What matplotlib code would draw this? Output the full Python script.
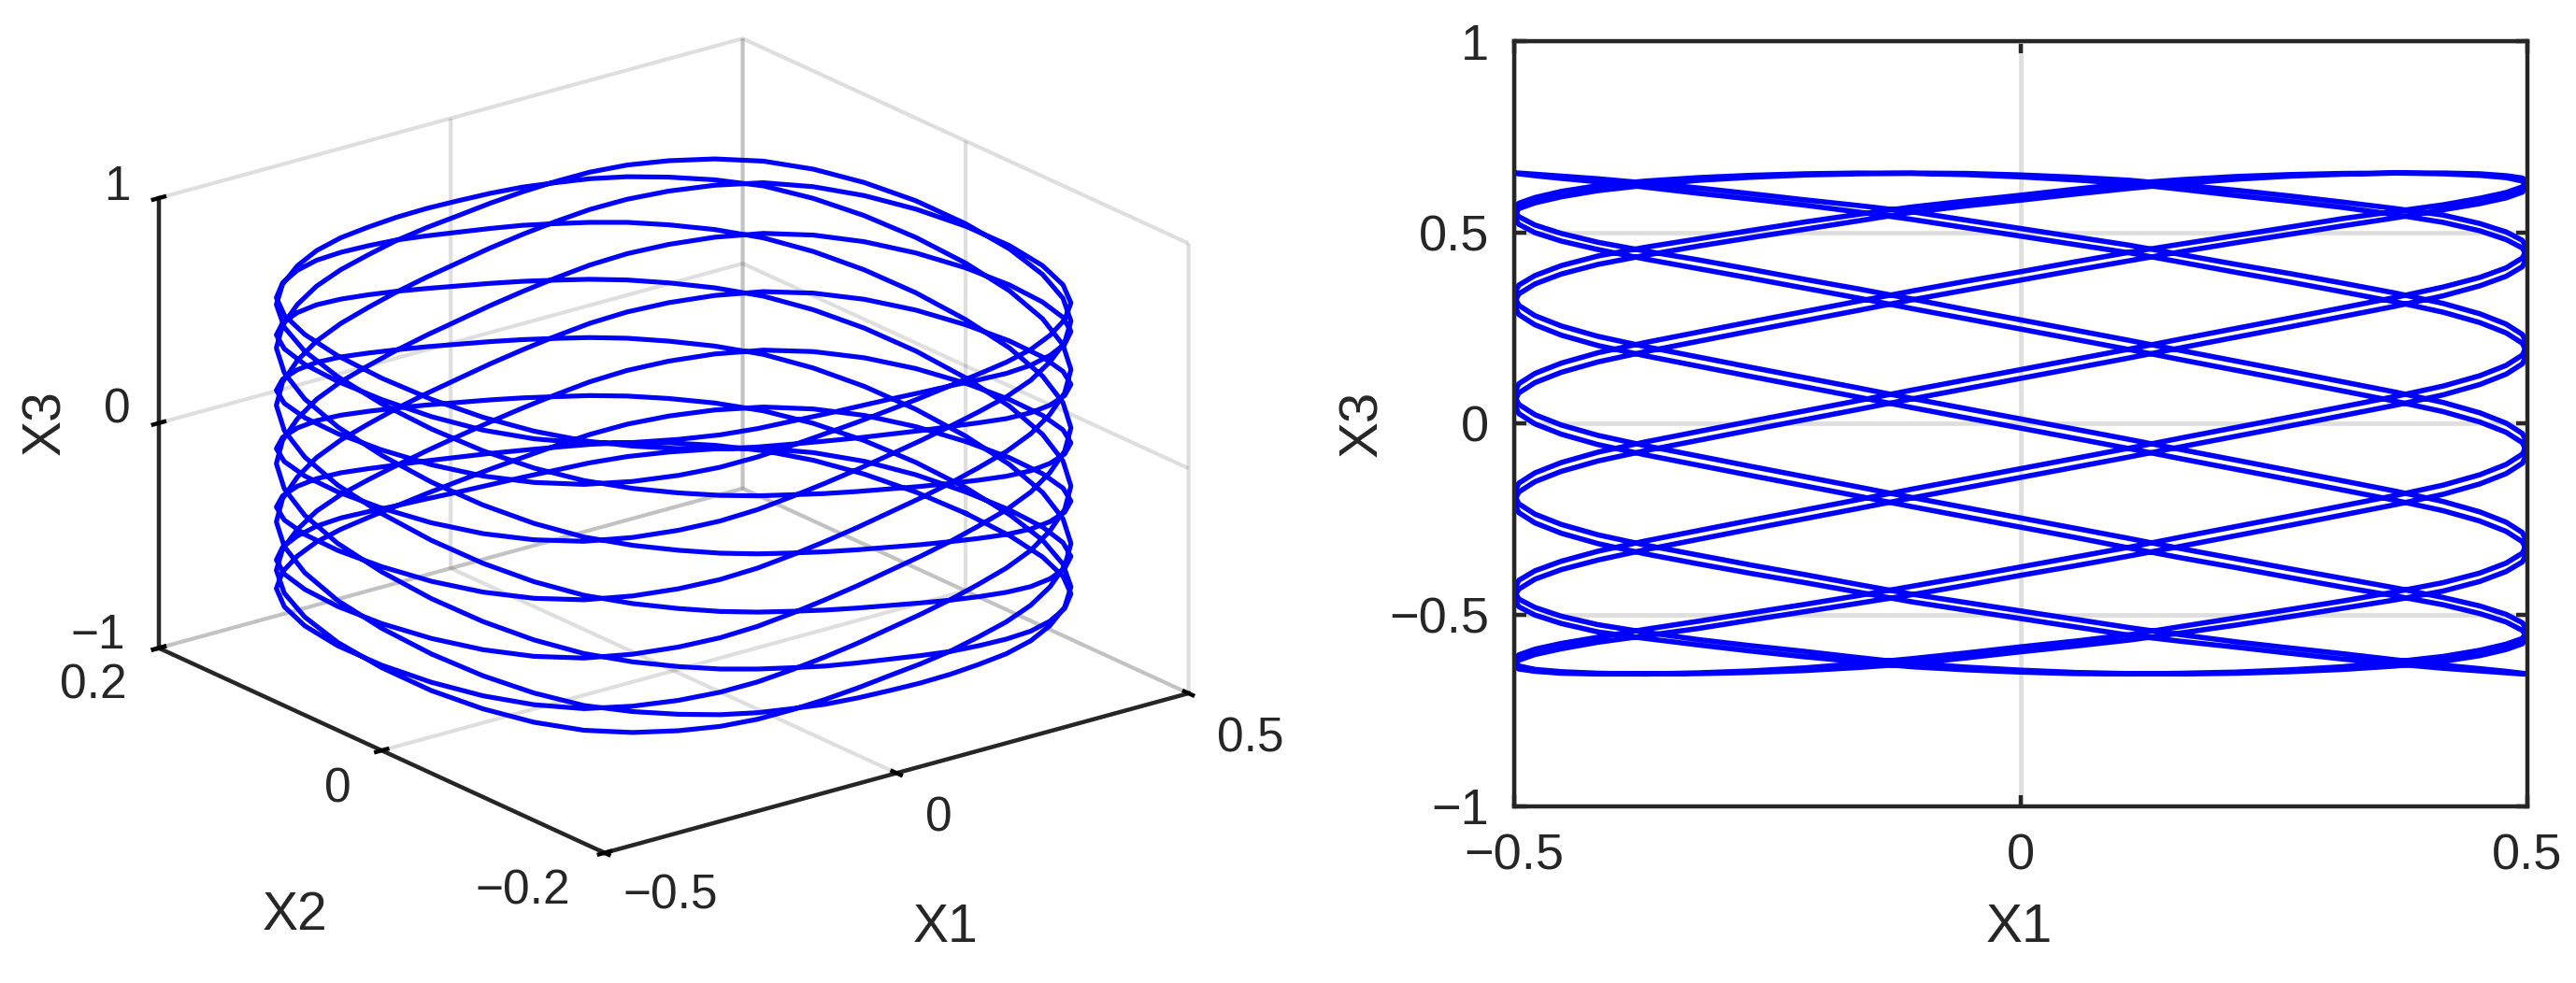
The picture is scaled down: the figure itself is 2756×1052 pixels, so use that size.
import matplotlib
matplotlib.use("Agg")
import matplotlib.pyplot as plt

plt.rcParams['font.family'] = ['Liberation Sans', 'DejaVu Sans']

# trajectory, one row per sweep across X1
# turning points and crossing levels, points between them estimated by hand
x1 = [
    0.5, 0.495, 0.479, 0.453, 0.417, 0.37, 0.318, 0.266, 0.213, 0.16, 0.108, 0.054, 0, -0.054, -0.108, -0.16, -0.213, -0.266, -0.318, -0.37, -0.417, -0.453, -0.479, -0.495,
    -0.5, -0.495, -0.479, -0.453, -0.417, -0.37, -0.318, -0.266, -0.213, -0.16, -0.108, -0.054, 0, 0.054, 0.108, 0.16, 0.213, 0.266, 0.318, 0.37, 0.417, 0.453, 0.479, 0.495,
    0.5, 0.495, 0.479, 0.453, 0.417, 0.37, 0.318, 0.266, 0.213, 0.16, 0.108, 0.054, 0, -0.054, -0.108, -0.16, -0.213, -0.266, -0.318, -0.37, -0.417, -0.453, -0.479, -0.495,
    -0.5, -0.495, -0.479, -0.453, -0.417, -0.37, -0.318, -0.266, -0.213, -0.16, -0.108, -0.054, 0, 0.054, 0.108, 0.16, 0.213, 0.266, 0.318, 0.37, 0.417, 0.453, 0.479, 0.495,
    0.5, 0.495, 0.479, 0.453, 0.417, 0.37, 0.318, 0.266, 0.213, 0.16, 0.108, 0.054, 0, -0.054, -0.108, -0.16, -0.213, -0.266, -0.318, -0.37, -0.417, -0.453, -0.479, -0.495,
    -0.5, -0.495, -0.479, -0.453, -0.417, -0.37, -0.318, -0.266, -0.213, -0.16, -0.108, -0.054, 0, 0.054, 0.108, 0.16, 0.213, 0.266, 0.318, 0.37, 0.417, 0.453, 0.479, 0.495,
    0.5, 0.495, 0.479, 0.453, 0.417, 0.37, 0.318, 0.266, 0.213, 0.16, 0.108, 0.054, 0, -0.054, -0.108, -0.16, -0.213, -0.266, -0.318, -0.37, -0.417, -0.453, -0.479, -0.495,
    -0.5, -0.495, -0.479, -0.453, -0.417, -0.37, -0.318, -0.266, -0.213, -0.16, -0.108, -0.054, 0, 0.054, 0.108, 0.16, 0.213, 0.266, 0.318, 0.37, 0.417, 0.453, 0.479, 0.495,
    0.5, 0.495, 0.479, 0.453, 0.417, 0.37, 0.318, 0.266, 0.213, 0.16, 0.108, 0.054, 0, -0.054, -0.108, -0.16, -0.213, -0.266, -0.318, -0.37, -0.417, -0.453, -0.479, -0.495,
    -0.5, -0.495, -0.479, -0.453, -0.417, -0.37, -0.318, -0.266, -0.213, -0.16, -0.108, -0.054, 0, 0.054, 0.108, 0.16, 0.213, 0.266, 0.318, 0.37, 0.417, 0.453, 0.479, 0.495,
    0.5, 0.495, 0.479, 0.453, 0.417, 0.37, 0.318, 0.266, 0.213, 0.16, 0.108, 0.054, 0, -0.054, -0.108, -0.16, -0.213, -0.266, -0.318, -0.37, -0.417, -0.453, -0.479, -0.495,
    -0.5, -0.495, -0.479, -0.453, -0.417, -0.37, -0.318, -0.266, -0.213, -0.16, -0.108, -0.054, 0, 0.054, 0.108, 0.16, 0.213, 0.266, 0.318, 0.37, 0.417, 0.453, 0.479, 0.495,
    0.5, 0.495, 0.479, 0.453, 0.417, 0.37, 0.318, 0.266, 0.213, 0.16, 0.108, 0.054, 0, -0.054, -0.108, -0.16, -0.213, -0.266, -0.318, -0.37, -0.417, -0.453, -0.479, -0.495,
    -0.5, -0.495, -0.479, -0.453, -0.417, -0.37, -0.318, -0.266, -0.213, -0.16, -0.108, -0.054, 0, 0.054, 0.108, 0.16, 0.213, 0.266, 0.318, 0.37, 0.417, 0.453, 0.479, 0.495,
    0.5, 0.495, 0.479, 0.453, 0.417, 0.37, 0.318, 0.266, 0.213, 0.16, 0.108, 0.054, 0, -0.054, -0.108, -0.16, -0.213, -0.266, -0.318, -0.37, -0.417, -0.453, -0.479, -0.495,
    -0.5, -0.495, -0.479, -0.453, -0.417, -0.37, -0.318, -0.266, -0.213, -0.16, -0.108, -0.054, 0, 0.054, 0.108, 0.16, 0.213, 0.266, 0.318, 0.37, 0.417, 0.453, 0.479, 0.495,
    0.5, 0.495, 0.479, 0.453, 0.417, 0.37, 0.318, 0.266, 0.213, 0.16, 0.108, 0.054, 0, -0.054, -0.108, -0.16, -0.213, -0.266, -0.318, -0.37, -0.417, -0.453, -0.479, -0.495,
    -0.5, -0.495, -0.479, -0.453, -0.417, -0.37, -0.318, -0.266, -0.213, -0.16, -0.108, -0.054, 0, 0.054, 0.108, 0.16, 0.213, 0.266, 0.318, 0.37, 0.417, 0.453, 0.479, 0.495,
    0.5, 0.495, 0.479, 0.453, 0.417, 0.37, 0.318, 0.266, 0.213, 0.16, 0.108, 0.054, 0, -0.054, -0.108, -0.16, -0.213, -0.266, -0.318, -0.37, -0.417, -0.453, -0.479, -0.495,
    -0.5, -0.495, -0.479, -0.453, -0.417, -0.37, -0.318, -0.266, -0.213, -0.16, -0.108, -0.054, 0, 0.054, 0.108, 0.16, 0.213, 0.266, 0.318, 0.37, 0.417, 0.453, 0.479, 0.495,
    0.5, 0.495, 0.479, 0.453, 0.417, 0.37, 0.318, 0.266, 0.213, 0.16, 0.108, 0.054, 0, -0.054, -0.108, -0.16, -0.213, -0.266, -0.318, -0.37, -0.417, -0.453, -0.479, -0.495,
    -0.5, -0.495, -0.479, -0.453, -0.417, -0.37, -0.318, -0.266, -0.213, -0.16, -0.108, -0.054, 0, 0.054, 0.108, 0.16, 0.213, 0.266, 0.318, 0.37, 0.417, 0.453, 0.479, 0.495,
    0.5, 0.495, 0.479, 0.453, 0.417, 0.37, 0.318, 0.266, 0.213, 0.16, 0.108, 0.054, 0, -0.054, -0.108, -0.16, -0.213, -0.266, -0.318, -0.37, -0.417, -0.453, -0.479, -0.495,
    -0.5, -0.495, -0.479, -0.453, -0.417, -0.37, -0.318, -0.266, -0.213, -0.16, -0.108, -0.054, 0, 0.054, 0.108, 0.16, 0.213, 0.266, 0.318, 0.37, 0.417, 0.453, 0.479, 0.495,
    0.5, 0.495, 0.479, 0.453, 0.417, 0.37, 0.318, 0.266, 0.213, 0.16, 0.108, 0.054, 0, -0.054, -0.108, -0.16, -0.213, -0.266, -0.318, -0.37, -0.417, -0.453, -0.479, -0.495,
    -0.5, -0.495, -0.479, -0.453, -0.417, -0.37, -0.318, -0.266, -0.213, -0.16, -0.108, -0.054, 0, 0.054, 0.108, 0.16, 0.213, 0.266, 0.318, 0.37, 0.417, 0.453, 0.479, 0.495,
    0.5,
]

x2 = [
    0, 0.042, 0.08, 0.112, 0.138, 0.157, 0.171, 0.181, 0.187, 0.19, 0.192, 0.193, 0.193, 0.193, 0.192, 0.19, 0.187, 0.181, 0.171, 0.157, 0.138, 0.112, 0.08, 0.042,
    0, -0.042, -0.08, -0.112, -0.138, -0.157, -0.171, -0.181, -0.187, -0.19, -0.192, -0.193, -0.193, -0.193, -0.192, -0.19, -0.187, -0.181, -0.171, -0.157, -0.138, -0.112, -0.08, -0.042,
    0, 0.042, 0.08, 0.112, 0.138, 0.157, 0.171, 0.181, 0.187, 0.19, 0.192, 0.193, 0.193, 0.193, 0.192, 0.19, 0.187, 0.181, 0.171, 0.157, 0.138, 0.112, 0.08, 0.042,
    0, -0.042, -0.08, -0.112, -0.138, -0.157, -0.171, -0.181, -0.187, -0.19, -0.192, -0.193, -0.193, -0.193, -0.192, -0.19, -0.187, -0.181, -0.171, -0.157, -0.138, -0.112, -0.08, -0.042,
    0, 0.042, 0.08, 0.112, 0.138, 0.157, 0.171, 0.181, 0.187, 0.19, 0.192, 0.193, 0.193, 0.193, 0.192, 0.19, 0.187, 0.181, 0.171, 0.157, 0.138, 0.112, 0.08, 0.042,
    0, -0.042, -0.08, -0.112, -0.138, -0.157, -0.171, -0.181, -0.187, -0.19, -0.192, -0.193, -0.193, -0.193, -0.192, -0.19, -0.187, -0.181, -0.171, -0.157, -0.138, -0.112, -0.08, -0.042,
    0, 0.042, 0.08, 0.112, 0.138, 0.157, 0.171, 0.181, 0.187, 0.19, 0.192, 0.193, 0.193, 0.193, 0.192, 0.19, 0.187, 0.181, 0.171, 0.157, 0.138, 0.112, 0.08, 0.042,
    0, -0.042, -0.08, -0.112, -0.138, -0.157, -0.171, -0.181, -0.187, -0.19, -0.192, -0.193, -0.193, -0.193, -0.192, -0.19, -0.187, -0.181, -0.171, -0.157, -0.138, -0.112, -0.08, -0.042,
    0, 0.042, 0.08, 0.112, 0.138, 0.157, 0.171, 0.181, 0.187, 0.19, 0.192, 0.193, 0.193, 0.193, 0.192, 0.19, 0.187, 0.181, 0.171, 0.157, 0.138, 0.112, 0.08, 0.042,
    0, -0.042, -0.08, -0.112, -0.138, -0.157, -0.171, -0.181, -0.187, -0.19, -0.192, -0.193, -0.193, -0.193, -0.192, -0.19, -0.187, -0.181, -0.171, -0.157, -0.138, -0.112, -0.08, -0.042,
    0, 0.042, 0.08, 0.112, 0.138, 0.157, 0.171, 0.181, 0.187, 0.19, 0.192, 0.193, 0.193, 0.193, 0.192, 0.19, 0.187, 0.181, 0.171, 0.157, 0.138, 0.112, 0.08, 0.042,
    0, -0.042, -0.08, -0.112, -0.138, -0.157, -0.171, -0.181, -0.187, -0.19, -0.192, -0.193, -0.193, -0.193, -0.192, -0.19, -0.187, -0.181, -0.171, -0.157, -0.138, -0.112, -0.08, -0.042,
    0, 0.042, 0.08, 0.112, 0.138, 0.157, 0.171, 0.181, 0.187, 0.19, 0.192, 0.193, 0.193, 0.193, 0.192, 0.19, 0.187, 0.181, 0.171, 0.157, 0.138, 0.112, 0.08, 0.042,
    0, -0.042, -0.08, -0.112, -0.138, -0.157, -0.171, -0.181, -0.187, -0.19, -0.192, -0.193, -0.193, -0.193, -0.192, -0.19, -0.187, -0.181, -0.171, -0.157, -0.138, -0.112, -0.08, -0.042,
    0, 0.042, 0.08, 0.112, 0.138, 0.157, 0.171, 0.181, 0.187, 0.19, 0.192, 0.193, 0.193, 0.193, 0.192, 0.19, 0.187, 0.181, 0.171, 0.157, 0.138, 0.112, 0.08, 0.042,
    0, -0.042, -0.08, -0.112, -0.138, -0.157, -0.171, -0.181, -0.187, -0.19, -0.192, -0.193, -0.193, -0.193, -0.192, -0.19, -0.187, -0.181, -0.171, -0.157, -0.138, -0.112, -0.08, -0.042,
    0, 0.042, 0.08, 0.112, 0.138, 0.157, 0.171, 0.181, 0.187, 0.19, 0.192, 0.193, 0.193, 0.193, 0.192, 0.19, 0.187, 0.181, 0.171, 0.157, 0.138, 0.112, 0.08, 0.042,
    0, -0.042, -0.08, -0.112, -0.138, -0.157, -0.171, -0.181, -0.187, -0.19, -0.192, -0.193, -0.193, -0.193, -0.192, -0.19, -0.187, -0.181, -0.171, -0.157, -0.138, -0.112, -0.08, -0.042,
    0, 0.042, 0.08, 0.112, 0.138, 0.157, 0.171, 0.181, 0.187, 0.19, 0.192, 0.193, 0.193, 0.193, 0.192, 0.19, 0.187, 0.181, 0.171, 0.157, 0.138, 0.112, 0.08, 0.042,
    0, -0.042, -0.08, -0.112, -0.138, -0.157, -0.171, -0.181, -0.187, -0.19, -0.192, -0.193, -0.193, -0.193, -0.192, -0.19, -0.187, -0.181, -0.171, -0.157, -0.138, -0.112, -0.08, -0.042,
    0, 0.042, 0.08, 0.112, 0.138, 0.157, 0.171, 0.181, 0.187, 0.19, 0.192, 0.193, 0.193, 0.193, 0.192, 0.19, 0.187, 0.181, 0.171, 0.157, 0.138, 0.112, 0.08, 0.042,
    0, -0.042, -0.08, -0.112, -0.138, -0.157, -0.171, -0.181, -0.187, -0.19, -0.192, -0.193, -0.193, -0.193, -0.192, -0.19, -0.187, -0.181, -0.171, -0.157, -0.138, -0.112, -0.08, -0.042,
    0, 0.042, 0.08, 0.112, 0.138, 0.157, 0.171, 0.181, 0.187, 0.19, 0.192, 0.193, 0.193, 0.193, 0.192, 0.19, 0.187, 0.181, 0.171, 0.157, 0.138, 0.112, 0.08, 0.042,
    0, -0.042, -0.08, -0.112, -0.138, -0.157, -0.171, -0.181, -0.187, -0.19, -0.192, -0.193, -0.193, -0.193, -0.192, -0.19, -0.187, -0.181, -0.171, -0.157, -0.138, -0.112, -0.08, -0.042,
    0, 0.042, 0.08, 0.112, 0.138, 0.157, 0.171, 0.181, 0.187, 0.19, 0.192, 0.193, 0.193, 0.193, 0.192, 0.19, 0.187, 0.181, 0.171, 0.157, 0.138, 0.112, 0.08, 0.042,
    0, -0.042, -0.08, -0.112, -0.138, -0.157, -0.171, -0.181, -0.187, -0.19, -0.192, -0.193, -0.193, -0.193, -0.192, -0.19, -0.187, -0.181, -0.171, -0.157, -0.138, -0.112, -0.08, -0.042,
    0,
]

x3 = [
    -0.655, -0.653, -0.648, -0.641, -0.632, -0.618, -0.602, -0.587, -0.571, -0.553, -0.534, -0.512, -0.490, -0.468, -0.446, -0.421, -0.395, -0.370, -0.344, -0.318, -0.291, -0.264, -0.237, -0.210,
    -0.183, -0.156, -0.129, -0.102, -0.075, -0.048, -0.021, 0.006, 0.033, 0.060, 0.087, 0.114, 0.141, 0.168, 0.195, 0.222, 0.249, 0.276, 0.303, 0.330, 0.357, 0.382, 0.407, 0.433,
    0.457, 0.479, 0.501, 0.523, 0.545, 0.562, 0.579, 0.595, 0.610, 0.623, 0.636, 0.644, 0.650, 0.654, 0.655, 0.653, 0.650, 0.644, 0.636, 0.623, 0.609, 0.593, 0.577, 0.562,
    0.541, 0.521, 0.499, 0.477, 0.455, 0.430, 0.405, 0.380, 0.354, 0.328, 0.301, 0.274, 0.247, 0.220, 0.193, 0.166, 0.139, 0.112, 0.085, 0.058, 0.031, 0.004, -0.023, -0.050,
    -0.077, -0.104, -0.131, -0.158, -0.185, -0.212, -0.239, -0.266, -0.293, -0.320, -0.346, -0.372, -0.397, -0.423, -0.448, -0.470, -0.492, -0.514, -0.536, -0.555, -0.572, -0.589, -0.604, -0.619,
    -0.632, -0.642, -0.648, -0.653, -0.655, -0.655, -0.652, -0.647, -0.639, -0.628, -0.615, -0.600, -0.584, -0.569, -0.552, -0.530, -0.508, -0.486, -0.464, -0.440, -0.416, -0.391, -0.365, -0.339,
    -0.312, -0.285, -0.258, -0.231, -0.204, -0.177, -0.150, -0.123, -0.096, -0.069, -0.042, -0.015, 0.012, 0.039, 0.066, 0.093, 0.120, 0.147, 0.174, 0.201, 0.228, 0.255, 0.282, 0.309,
    0.336, 0.362, 0.387, 0.413, 0.438, 0.461, 0.483, 0.505, 0.527, 0.547, 0.566, 0.582, 0.597, 0.613, 0.628, 0.638, 0.646, 0.651, 0.654, 0.655, 0.653, 0.649, 0.643, 0.634,
    0.621, 0.605, 0.590, 0.575, 0.559, 0.538, 0.517, 0.495, 0.473, 0.450, 0.426, 0.401, 0.375, 0.349, 0.323, 0.296, 0.269, 0.242, 0.215, 0.188, 0.161, 0.134, 0.107, 0.080,
    0.053, 0.026, -0.001, -0.028, -0.055, -0.082, -0.109, -0.136, -0.163, -0.190, -0.217, -0.244, -0.271, -0.298, -0.326, -0.352, -0.377, -0.403, -0.428, -0.451, -0.474, -0.497, -0.519, -0.541,
    -0.560, -0.576, -0.591, -0.607, -0.622, -0.634, -0.643, -0.649, -0.653, -0.655, -0.654, -0.651, -0.645, -0.637, -0.627, -0.612, -0.596, -0.581, -0.565, -0.546, -0.526, -0.504, -0.481, -0.459,
    -0.436, -0.410, -0.385, -0.360, -0.334, -0.307, -0.280, -0.253, -0.226, -0.199, -0.172, -0.145, -0.118, -0.091, -0.064, -0.037, -0.010, 0.017, 0.044, 0.071, 0.098, 0.125, 0.152, 0.179,
    0.206, 0.233, 0.260, 0.287, 0.314, 0.341, 0.367, 0.392, 0.416, 0.441, 0.466, 0.488, 0.510, 0.532, 0.554, 0.570, 0.585, 0.601, 0.616, 0.629, 0.640, 0.647, 0.652, 0.655,
    0.655, 0.653, 0.648, 0.641, 0.632, 0.618, 0.602, 0.587, 0.571, 0.553, 0.534, 0.512, 0.490, 0.468, 0.446, 0.421, 0.395, 0.370, 0.344, 0.318, 0.291, 0.264, 0.237, 0.210,
    0.183, 0.156, 0.129, 0.102, 0.075, 0.048, 0.021, -0.006, -0.033, -0.060, -0.087, -0.114, -0.141, -0.168, -0.195, -0.222, -0.249, -0.276, -0.303, -0.330, -0.357, -0.382, -0.407, -0.433,
    -0.457, -0.479, -0.501, -0.523, -0.545, -0.562, -0.579, -0.595, -0.610, -0.623, -0.636, -0.644, -0.650, -0.654, -0.655, -0.653, -0.650, -0.644, -0.636, -0.623, -0.609, -0.593, -0.577, -0.562,
    -0.541, -0.521, -0.499, -0.477, -0.455, -0.430, -0.405, -0.380, -0.354, -0.328, -0.301, -0.274, -0.247, -0.220, -0.193, -0.166, -0.139, -0.112, -0.085, -0.058, -0.031, -0.004, 0.023, 0.050,
    0.077, 0.104, 0.131, 0.158, 0.185, 0.212, 0.239, 0.266, 0.293, 0.320, 0.346, 0.372, 0.397, 0.423, 0.448, 0.470, 0.492, 0.514, 0.536, 0.555, 0.572, 0.589, 0.604, 0.619,
    0.632, 0.642, 0.648, 0.653, 0.655, 0.655, 0.652, 0.647, 0.639, 0.628, 0.615, 0.600, 0.584, 0.569, 0.552, 0.530, 0.508, 0.486, 0.464, 0.440, 0.416, 0.391, 0.365, 0.339,
    0.312, 0.285, 0.258, 0.231, 0.204, 0.177, 0.150, 0.123, 0.096, 0.069, 0.042, 0.015, -0.012, -0.039, -0.066, -0.093, -0.120, -0.147, -0.174, -0.201, -0.228, -0.255, -0.282, -0.309,
    -0.336, -0.362, -0.387, -0.413, -0.438, -0.461, -0.483, -0.505, -0.527, -0.547, -0.566, -0.582, -0.597, -0.613, -0.628, -0.638, -0.646, -0.651, -0.654, -0.655, -0.653, -0.649, -0.643, -0.634,
    -0.621, -0.605, -0.590, -0.575, -0.559, -0.538, -0.517, -0.495, -0.473, -0.450, -0.426, -0.401, -0.375, -0.349, -0.323, -0.296, -0.269, -0.242, -0.215, -0.188, -0.161, -0.134, -0.107, -0.080,
    -0.053, -0.026, 0.001, 0.028, 0.055, 0.082, 0.109, 0.136, 0.163, 0.190, 0.217, 0.244, 0.271, 0.298, 0.326, 0.352, 0.377, 0.403, 0.428, 0.451, 0.474, 0.497, 0.519, 0.541,
    0.560, 0.576, 0.591, 0.607, 0.622, 0.634, 0.643, 0.649, 0.653, 0.655, 0.654, 0.651, 0.645, 0.637, 0.627, 0.612, 0.596, 0.581, 0.565, 0.546, 0.526, 0.504, 0.481, 0.459,
    0.436, 0.410, 0.385, 0.360, 0.334, 0.307, 0.280, 0.253, 0.226, 0.199, 0.172, 0.145, 0.118, 0.091, 0.064, 0.037, 0.010, -0.017, -0.044, -0.071, -0.098, -0.125, -0.152, -0.179,
    -0.206, -0.233, -0.260, -0.287, -0.314, -0.341, -0.367, -0.392, -0.416, -0.441, -0.466, -0.488, -0.510, -0.532, -0.554, -0.570, -0.585, -0.601, -0.616, -0.629, -0.640, -0.647, -0.652, -0.655,
    -0.655,
]

x1_ticks = [-0.5, 0, 0.5]
x2_ticks = [-0.2, 0, 0.2]
x3_ticks_3d = [-1, 0, 1]
x3_ticks_2d = [-1, -0.5, 0, 0.5, 1]

W, H = 2756, 1052
DARK = '#262626'
BLUE = '#0000ff'


def pos(x, y):
    # pixel position in the picture to figure coordinates
    return x / W, 1 - y / H


fig = plt.figure(figsize=(W / 100, H / 100), dpi=100, facecolor='white')

# 3D panel
S = 900
ax3 = fig.add_axes([(720.7 - 0.5135 * S) / W, (575 - 0.5135 * S) / H, S / W, S / H],
                   projection='3d', proj_type='ortho')
ax3.set_box_aspect((1, 0.99, 0.6527), zoom=1188 / S)
ax3.view_init(elev=20.76, azim=-127.64)
ax3.patch.set_alpha(0)
ax3.plot(x1, x2, x3, color=BLUE, lw=3.7, solid_joinstyle='round')
ax3.set_xlim(-0.5, 0.5, view_margin=0)
ax3.set_ylim(-0.2, 0.2, view_margin=0)
ax3.set_zlim(-1, 1, view_margin=0)
ax3.set_xticks(x1_ticks)
ax3.set_yticks(x2_ticks)
ax3.set_zticks(x3_ticks_3d)
ax3.set_xticklabels([])
ax3.set_yticklabels([])
ax3.set_zticklabels([])
for axis in (ax3.xaxis, ax3.yaxis, ax3.zaxis):
    axis.set_pane_color((1, 1, 1, 0))
    axis.pane.set_edgecolor((1, 1, 1, 0))
    axis.line.set_color(DARK)
    axis.line.set_linewidth(3.2)
    axis._axinfo['grid'].update(color=(0.15, 0.15, 0.15, 0.15), linewidth=3.0)
    axis._axinfo['tick'].update(inward_factor=0.12, outward_factor=0.12, linewidth={True: 3.2, False: 3.2}, color=DARK)

for txt, x, y in [('1', 125, 200), ('0', 125, 439), ('\u22121', 105, 680),
                  ('0.2', 100, 734), ('0', 361, 845), ('\u22120.2', 559, 954),
                  ('\u22120.5', 717, 959), ('0', 1004, 876), ('0.5', 1338, 791)]:
    fig.text(*pos(x, y), txt, fontsize=37, color=DARK, ha='center', va='center')
fig.text(*pos(49, 452), 'X3', fontsize=41, color=DARK, ha='center', va='center', rotation=90)
fig.text(*pos(316, 980), 'X2', fontsize=41, color=DARK, ha='center', va='center')
fig.text(*pos(1012, 993), 'X1', fontsize=41, color=DARK, ha='center', va='center')

# X1-X3 panel
ax = fig.add_axes([1619.5 / W, (H - 862.5) / H, 1084.5 / W, 818.5 / H])
ax.plot(x1, x3, color=BLUE, lw=4.0, solid_joinstyle='round')
ax.set_xlim(-0.5, 0.5)
ax.set_ylim(-1, 1)
ax.set_xticks(x1_ticks)
ax.set_yticks(x3_ticks_2d)
ax.set_xticklabels(['\u22120.5', '0', '0.5'])
ax.set_yticklabels(['\u22121', '\u22120.5', '0', '0.5', '1'])
ax.grid(True, color='#dedede', lw=3.4)
ax.set_axisbelow(True)
ax.tick_params(direction='in', top=True, right=True, length=9, width=3.2, color=DARK,
               labelcolor=DARK, labelsize=39)
ax.tick_params(axis='x', pad=21)
ax.tick_params(axis='y', pad=19)
for s in ax.spines.values():
    s.set_linewidth(3.2)
    s.set_color(DARK)
ax.set_xlabel('X1', fontsize=42, color=DARK, va='center')
ax.set_ylabel('X3', fontsize=42, color=DARK, va='center')
ax.xaxis.set_label_coords(2160 / W, 1 - 993 / H, transform=fig.transFigure)
ax.yaxis.set_label_coords(1458 / W, 1 - 453 / H, transform=fig.transFigure)

fig.savefig('out.png', dpi=100)
